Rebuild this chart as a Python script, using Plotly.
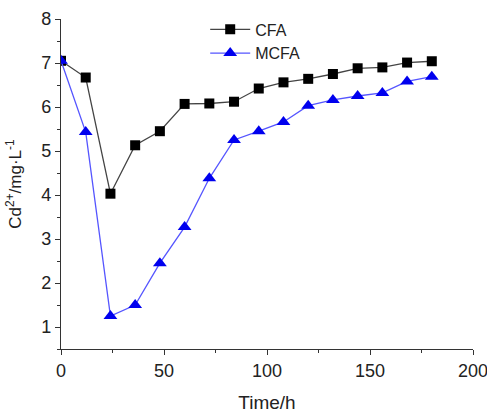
import plotly.graph_objects as go

time_h = [0, 12, 24, 36, 48, 60, 72, 84, 96, 108, 120, 132, 144, 156, 168, 180]
cfa = [7.05, 6.67, 4.03, 5.13, 5.45, 6.07, 6.08, 6.12, 6.42, 6.56, 6.64, 6.75, 6.88, 6.90, 7.01, 7.04]
mcfa = [7.05, 5.43, 1.25, 1.50, 2.45, 3.27, 4.38, 5.25, 5.45, 5.66, 6.03, 6.16, 6.25, 6.32, 6.58, 6.69]

FONT = "Liberation Sans, Arial"

fig = go.Figure()
fig.add_trace(go.Scatter(x=time_h, y=cfa, name="CFA", mode="lines+markers",
                         line=dict(color="#444444", width=1.3),
                         marker=dict(symbol="square", size=10, color="black")))
fig.add_trace(go.Scatter(x=time_h, y=mcfa, name="MCFA", mode="lines+markers",
                         line=dict(color="#5555ff", width=1.3),
                         marker=dict(symbol="triangle-up", size=12, color="#0000ee")))

axis_common = dict(showgrid=False, zeroline=False, showline=True, linecolor="#333333",
                   linewidth=1.3, ticks="outside", ticklen=5, tickcolor="#333333", automargin=False,
                   ticklabeloverflow="allow",
                   tickfont=dict(family=FONT, size=18, color="#222222"))
fig.update_xaxes(range=[0, 200], tickvals=[0, 50, 100, 150, 200],
                 minor=dict(tickvals=[25, 75, 125, 175], ticks="outside", ticklen=3, tickcolor="#333333"),
                 title=dict(text="Time/h", font=dict(family=FONT, size=19, color="#222222")),
                 **axis_common)
fig.update_yaxes(range=[0.5, 8], tickvals=[1, 2, 3, 4, 5, 6, 7, 8],
                 minor=dict(tickvals=[0.5, 1.5, 2.5, 3.5, 4.5, 5.5, 6.5, 7.5], ticks="outside", ticklen=3, tickcolor="#333333"),
                 title=dict(text="Cd<sup>2+</sup>/mg·L<sup>-1</sup>", font=dict(family=FONT, size=17, color="#222222")),
                 **axis_common)

fig.update_layout(width=487, height=415, margin=dict(l=61, r=14, t=15, b=66),
                  plot_bgcolor="white", paper_bgcolor="white",
                  legend=dict(x=0.35, y=1.02, xanchor="left", yanchor="top",
                              bgcolor="rgba(0,0,0,0)", tracegroupgap=0, itemwidth=40,
                              font=dict(family=FONT, size=16, color="#222222")))

fig.write_html("out.html", config={"displayModeBar": False},
               post_script="document.body.style.margin='0';document.body.style.padding='0';")
